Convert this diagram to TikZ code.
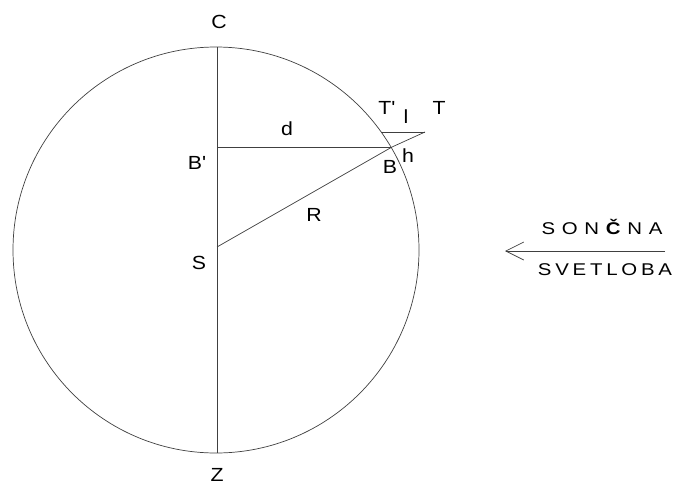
\documentclass[tikz,border=0pt]{standalone}
\usepackage{fontspec}
\setmainfont{Liberation Sans}
\newfontfamily\labfont{Liberation Sans}
\usetikzlibrary{arrows.meta}
\newcommand{\wide}[2]{\scalebox{#1}[1]{#2}}
\begin{document}
\begin{tikzpicture}[x=1pt,y=-1pt,
  line/.style={draw=black!75, line width=0.7pt},
  lab/.style={font=\labfont\fontsize{19}{19}\selectfont, inner sep=0pt},
  rt/.style={font=\labfont\fontsize{17}{17}\selectfont, inner sep=0pt}]
\useasboundingbox (0,0) rectangle (676,485);
\coordinate (O) at (216,250);
\draw[line] (O) circle (203pt);
\coordinate (Ct) at (217,47);
\coordinate (Zb) at (217,453);
\coordinate (S) at (217,247);
\coordinate (Bp) at (217,147);
\coordinate (B) at (392,147);
\coordinate (Tp) at (381,132);
\coordinate (T) at (425,132);
\draw[line] (Ct) -- (Zb);
\draw[line] (Bp) -- (B);
\draw[line] (S) -- (B) -- (T);
\draw[line] (Tp) -- (T);
\node[lab] (lC) at (219,22) {\wide{1.12}{C}};
\node[lab] (lZ) at (217,475) {\wide{1.12}{Z}};
\node[lab] (lBp) at (197,163) {\wide{1.12}{B'}};
\node[lab] (ld) at (287,129) {\wide{1.12}{d}};
\node[lab] (lS) at (199,263) {\wide{1.12}{S}};
\node[lab] (lR) at (314,215) {\wide{1.12}{R}};
\node[lab] (lB) at (390,167) {\wide{1.12}{B}};
\node[lab] (lh) at (408,156) {\wide{1.12}{h}};
\node[lab] (lTp) at (387,108) {\wide{1.12}{T'}};
\node[lab] (ll) at (406,117) {\wide{1.12}{l}};
\node[lab] (lT) at (439,108) {\wide{1.12}{T}};
\coordinate (A1) at (665,251);
\coordinate (A0) at (505,251);
\draw[line, -{Straight Barb[length=18pt,width=18pt]}] (A1) -- (A0);
\node[rt] (sun) at (602,227) {\wide{1.2}{\makebox[100.8pt][s]{S\hfill O\hfill N\hfill {\bfseries Č}\hfill N\hfill A}}};
\node[rt] (light) at (605,270) {\wide{1.2}{\makebox[111.7pt][s]{S\hfill V\hfill E\hfill T\hfill L\hfill O\hfill B\hfill A}}};
\end{tikzpicture}
\end{document}
